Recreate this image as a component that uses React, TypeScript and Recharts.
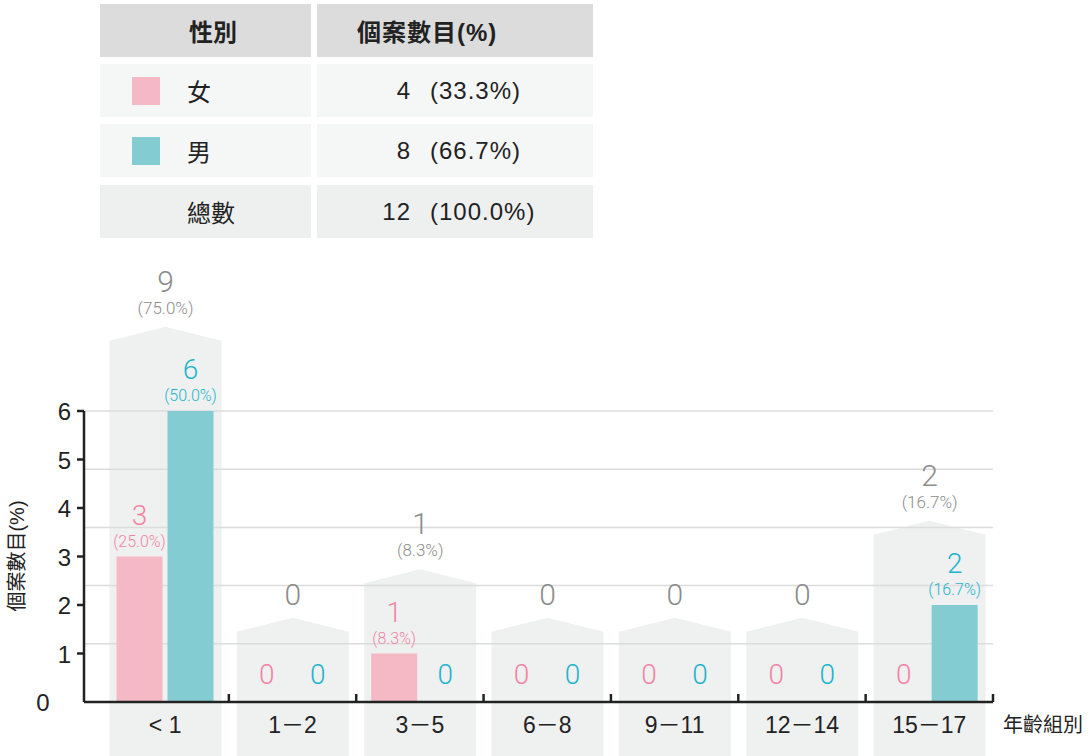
import { BarChart, Bar, XAxis, YAxis, ReferenceLine, LabelList } from 'recharts';

const AGE_GROUPS = ['< 1', '1－2', '3－5', '6－8', '9－11', '12－14', '15－17'];
const FEMALE = [3, 0, 1, 0, 0, 0, 0];
const MALE = [6, 0, 0, 0, 0, 0, 2];
const Y_TICKS = [0, 1, 2, 3, 4, 5, 6];
const GRID_VALUES = [1.2, 2.4, 3.6, 4.8, 6];
// room kept above the taller bar of each group for its labels (in count units)
const LABEL_ROOM = 1.45;

const sum = (a: number[]) => a.reduce((s, v) => s + v, 0);
const FEMALE_SUM = sum(FEMALE);
const MALE_SUM = sum(MALE);
const GRAND = FEMALE_SUM + MALE_SUM;
const pct = (v: number) => `(${((v / GRAND) * 100).toFixed(1)}%)`;

const data = AGE_GROUPS.map((age, i) => ({
  age,
  female: FEMALE[i],
  male: MALE[i],
  total: FEMALE[i] + MALE[i],
  frame: Math.max(FEMALE[i], MALE[i]) + LABEL_ROOM,
}));

const W = 1088;
const H = 756;
const PLOT_LEFT = 84;
const PLOT_RIGHT = 993;
const PLOT_BOTTOM = 702;
const UNIT = 48.5;
const PAD_LEFT = 17.5;
const Y_MAX = Math.max(...data.map(d => d.frame));
const PLOT_TOP = PLOT_BOTTOM - Y_MAX * UNIT;
const BAND = (PLOT_RIGHT - PLOT_LEFT - PAD_LEFT) / AGE_GROUPS.length;

const FONT = '"Liberation Sans", Arial, "Noto Sans CJK TC", sans-serif';
const LIGHT = 'Roboto, "Liberation Sans", sans-serif';
const INK = '#222';
const PINK = '#F4B9C5';
const TEAL = '#83CCD2';
const PINK_TEXT = '#F283A5';
const TEAL_TEXT = '#1CB4CD';
const GREY_TEXT = '#8C8C8C';
const FRAME = '#EFF0F0';

const FrameShape = (props: any) => {
  const { x, y, width, height } = props;
  const bottom = y + height + 80;
  const d = `M${x},${bottom} L${x},${y} L${x + width / 2},${y - 14} L${x + width},${y} L${x + width},${bottom} Z`;
  return <path d={d} fill={FRAME} />;
};

// zero bars keep a 1px stub so their labels are laid out, but draw nothing
const barShape = (key: 'female' | 'male', fill: string) => (props: any) => {
  const { x, y, width, height, payload } = props;
  if (!payload || !payload[key]) return <g />;
  return <rect x={x} y={y} width={width} height={height} fill={fill} />;
};

const frameLabel = (props: any) => {
  const { x, y, width, value } = props;
  const cx = x + width / 2;
  const peak = y - 14;
  if (!value) {
    return (
      <text x={cx} y={peak - 13} textAnchor="middle" fontSize={30} fill={GREY_TEXT} fontFamily={LIGHT} fontWeight={300}>0</text>
    );
  }
  return (
    <g>
      <text x={cx} y={peak - 35} textAnchor="middle" fontSize={30} fill={GREY_TEXT} fontFamily={LIGHT} fontWeight={300}>{value}</text>
      <text x={cx} y={peak - 13} textAnchor="middle" fontSize={17} fill={GREY_TEXT} fontFamily={LIGHT} fontWeight={300}>{pct(value)}</text>
    </g>
  );
};

const barLabel = (color: string) => (props: any) => {
  const { x, y, width, value } = props;
  const cx = x + width / 2;
  if (!value) {
    return (
      <text x={cx} y={PLOT_BOTTOM - 18} textAnchor="middle" fontSize={28} fill={color} fontFamily={LIGHT} fontWeight={300}>0</text>
    );
  }
  return (
    <g>
      <text x={cx} y={y - 32} textAnchor="middle" fontSize={28} fill={color} fontFamily={LIGHT} fontWeight={300}>{value}</text>
      <text x={cx} y={y - 10} textAnchor="middle" fontSize={16} fill={color} fontFamily={LIGHT} fontWeight={300}>{pct(value)}</text>
    </g>
  );
};

const AgeTick = (props: any) => {
  const { x, payload } = props;
  const edge = x + BAND / 2;
  return (
    <g>
      <text x={x} y={PLOT_BOTTOM + 31} textAnchor="middle" fontSize={23} fill={INK} fontFamily={FONT}>{payload.value}</text>
      <line x1={edge} x2={edge} y1={PLOT_BOTTOM - 8} y2={PLOT_BOTTOM} stroke={INK} strokeWidth={2.5} />
    </g>
  );
};

const CountTick = (props: any) => {
  const { y, payload } = props;
  if (payload.value === 0) {
    return <text x={43} y={y + 9} textAnchor="middle" fontSize={24} fill={INK} fontFamily={FONT}>0</text>;
  }
  return (
    <g>
      <line x1={PLOT_LEFT - 7} x2={PLOT_LEFT} y1={y} y2={y} stroke={INK} strokeWidth={2.5} />
      <text x={PLOT_LEFT - 13} y={y + 9} textAnchor="end" fontSize={24} fill={INK} fontFamily={FONT}>{payload.value}</text>
    </g>
  );
};

const ROW_TOP = [4, 64, 124, 185];
const ROW_H = 53;

const cellBase = { position: 'absolute' as const, height: ROW_H, display: 'flex', alignItems: 'center', boxSizing: 'border-box' as const };

function SummaryTable() {
  const rows = [
    { label: '女', color: PINK, n: FEMALE_SUM, bg: '#F5F6F6' },
    { label: '男', color: TEAL, n: MALE_SUM, bg: '#F5F6F6' },
    { label: '總數', color: null, n: GRAND, bg: '#EEF0F0' },
  ];
  return (
    <div style={{ position: 'absolute', left: 0, top: 0, fontFamily: '"Liberation Sans", "Noto Sans CJK TC", sans-serif', color: INK, fontSize: 24 }}>
      <div style={{ ...cellBase, left: 100, top: ROW_TOP[0], width: 211, background: '#DCDCDC', justifyContent: 'center', paddingLeft: 15, fontWeight: 700 }}>性別</div>
      <div style={{ ...cellBase, left: 317, top: ROW_TOP[0], width: 276, background: '#DCDCDC', paddingLeft: 40, fontWeight: 700, letterSpacing: 1 }}>個案數目(%)</div>
      {rows.map((r, i) => (
        <div key={r.label}>
          <div style={{ ...cellBase, left: 100, top: ROW_TOP[i + 1], width: 211, background: r.bg, paddingLeft: 32 }}>
            <span style={{ width: 28, height: 28, background: r.color ?? 'transparent', display: 'inline-block' }} />
            <span style={{ marginLeft: 27 }}>{r.label}</span>
          </div>
          <div style={{ ...cellBase, left: 317, top: ROW_TOP[i + 1], width: 276, background: r.bg, letterSpacing: 1 }}>
            <span style={{ width: 94, textAlign: 'right', display: 'inline-block' }}>{r.n}</span>
            <span style={{ marginLeft: 19 }}>{pct(r.n)}</span>
          </div>
        </div>
      ))}
    </div>
  );
}

export default function App() {
  return (
    <div style={{ position: 'absolute', left: 0, top: 0, width: W, height: H, background: '#fff', overflow: 'hidden' }}>
      <div style={{ position: 'absolute', left: 0, top: 0 }}>
        <BarChart
          width={W}
          height={H}
          data={data}
          margin={{ top: PLOT_TOP, right: W - PLOT_RIGHT, bottom: 0, left: 0 }}
          barGap={5}
        >
          <XAxis xAxisId="frame" dataKey="age" hide height={0} padding={{ left: PAD_LEFT, right: 0 }} />
          <XAxis xAxisId="num" type="number" domain={[0, 1]} allowDataOverflow hide height={0} />
          <YAxis
            width={PLOT_LEFT}
            domain={[0, Y_MAX]}
            ticks={Y_TICKS}
            interval={0}
            axisLine={false}
            tickLine={false}
            tick={<CountTick />}
          />
          <Bar xAxisId="frame" dataKey="frame" barSize={112} shape={<FrameShape />} isAnimationActive={false} zIndex={100}>
            <LabelList dataKey="total" content={frameLabel} />
          </Bar>
          {GRID_VALUES.map(v => (
            <ReferenceLine key={v} y={v} xAxisId="main" stroke="#DCDCDC" strokeWidth={1.5} zIndex={200} />
          ))}
          <Bar xAxisId="main" dataKey="female" fill={PINK} barSize={46} minPointSize={1} shape={barShape('female', PINK)} isAnimationActive={false} zIndex={300}>
            <LabelList dataKey="female" content={barLabel(PINK_TEXT)} />
          </Bar>
          <Bar xAxisId="main" dataKey="male" fill={TEAL} barSize={46} minPointSize={1} shape={barShape('male', TEAL)} isAnimationActive={false} zIndex={300}>
            <LabelList dataKey="male" content={barLabel(TEAL_TEXT)} />
          </Bar>
          <XAxis
            xAxisId="main"
            dataKey="age"
            height={H - PLOT_BOTTOM}
            padding={{ left: PAD_LEFT, right: 0 }}
            interval={0}
            axisLine={{ stroke: INK, strokeWidth: 2.5 }}
            tickLine={false}
            tick={<AgeTick />}
          />
          <ReferenceLine
            xAxisId="num"
            segment={[{ x: 0, y: 0 }, { x: 0, y: 6 }]}
            stroke={INK}
            strokeWidth={2.5}
            zIndex={600}
          />
        </BarChart>
      </div>
      <SummaryTable />
      <svg width={W} height={H} style={{ position: 'absolute', left: 0, top: 0, pointerEvents: 'none' }}>
        <text x={24} y={556} transform="rotate(-90 24 556)" textAnchor="middle" fontSize={20} fill={INK} fontFamily={FONT}>個案數目(%)</text>
        <text x={1003} y={732} fontSize={20} fill={INK} fontFamily={FONT}>年齡組別</text>
      </svg>
    </div>
  );
}
